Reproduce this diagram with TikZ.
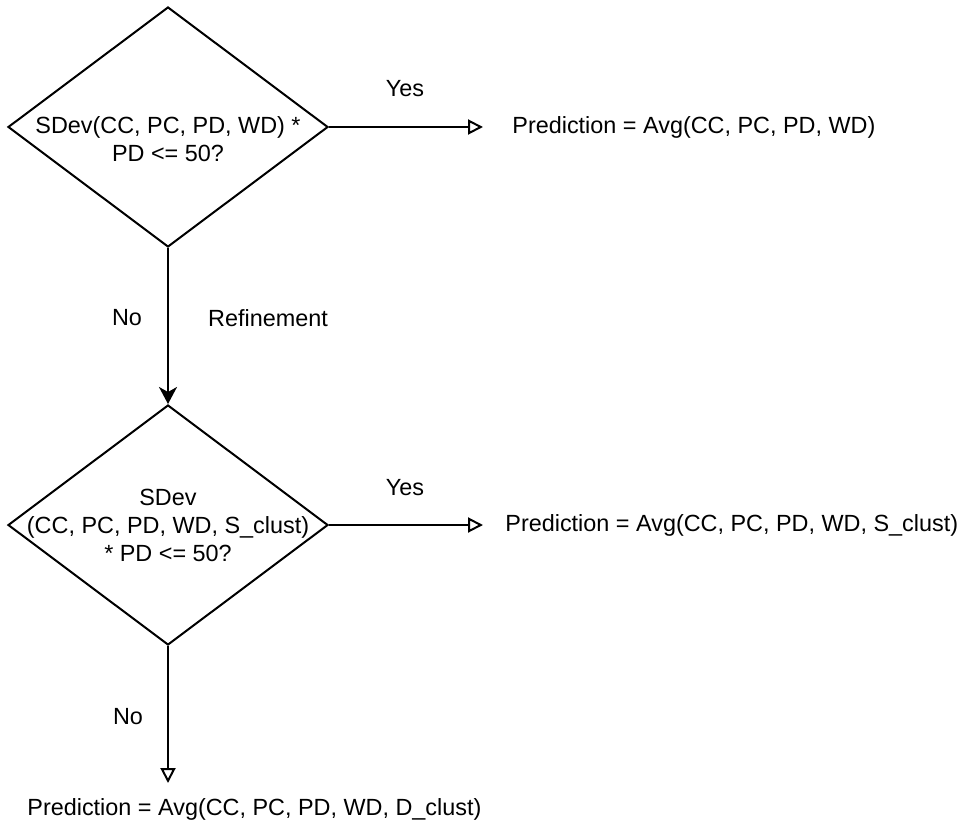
\documentclass[tikz,border=0pt]{standalone}
\usepackage{fontspec}
\setmainfont{Liberation Sans}
\usetikzlibrary{shapes.geometric, arrows.meta, positioning}

\begin{document}
\begin{tikzpicture}[x=0.5pt, y=-0.5pt,
    every node/.style={font=\fontsize{11.7}{14}\selectfont},
    cond/.style={draw, diamond, line width=1pt, minimum width=160pt, minimum height=120pt, inner sep=0pt},
    condtext/.style={align=center, inner sep=0pt},
    result/.style={inner sep=0pt},
    branch/.style={inner sep=0pt},
    flow/.style={-{Stealth[length=8.5pt, width=9pt, inset=2.5pt]}, line width=1pt},
    openflow/.style={-{Triangle[open, length=7.5pt, width=7.5pt]}, line width=1pt}
  ]
  \useasboundingbox (0,0) rectangle (972,823);

  % decisions
  \node[cond, label={[condtext, yshift=-6pt]center:SDev(CC, PC, PD, WD) *\\PD <= 50?}] (check1) at (168,127) {};
  \node[cond, label={[condtext]center:SDev\\(CC, PC, PD, WD, S\_clust)\\* PD <= 50?}] (check2) at (168,525) {};

  % outcomes
  \node[result, anchor=west]       (pred1) at (512,127) {Prediction = Avg(CC, PC, PD, WD)};
  \node[result, anchor=west]       (pred2) at (505,525) {Prediction = Avg(CC, PC, PD, WD, S\_clust)};
  \node[result, anchor=north west] (pred3) at (27,798)  {Prediction = Avg(CC, PC, PD, WD, D\_clust)};
  \coordinate (end3) at (check2.south |- 0,783);

  \draw[openflow] (check1.east) -- (check1.east -| 483,0);
  \draw[flow]     (check1.south) -- (check2.north);
  \draw[openflow] (check2.east) -- (check2.east -| 483,0);
  \draw[openflow] (check2.south) -- (end3);

  % branch labels
  \node[branch] (yes1)   at (405,89)  {Yes};
  \node[branch] (no1)    at (127,318) {No};
  \node[branch] (refine) at (268,318) {Refinement};
  \node[branch] (yes2)   at (405,488) {Yes};
  \node[branch] (no2)    at (128,717) {No};
\end{tikzpicture}
\end{document}
